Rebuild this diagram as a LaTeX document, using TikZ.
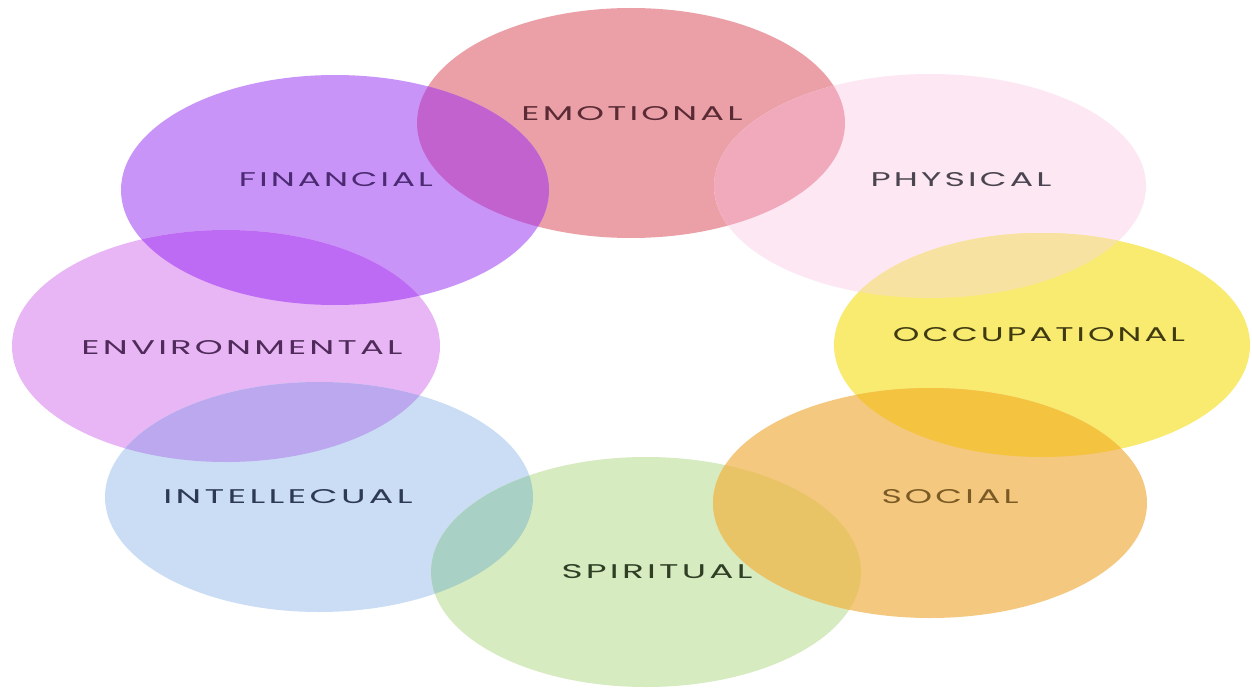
\documentclass[tikz,border=0pt]{standalone}
\usepackage{fontspec}
\usepackage{graphicx}
\newfontfamily\lblfont{Poppins}[LetterSpace=9]
\newcommand{\lbl}[2]{\resizebox{#1pt}{14pt}{\lblfont #2}}
% fills
\definecolor{cEmo}{RGB}{234,160,166}
\definecolor{cFin}{RGB}{201,148,247}
\definecolor{cPhy}{RGB}{252,231,243}
\definecolor{cOcc}{RGB}{248,235,112}
\definecolor{cEnv}{RGB}{232,182,245}
\definecolor{cInt}{RGB}{202,221,244}
\definecolor{cSpi}{RGB}{215,235,192}
\definecolor{cSoc}{RGB}{245,200,127}
% overlaps
\definecolor{oEmoFin}{RGB}{194,98,207}
\definecolor{oEmoPhy}{RGB}{240,170,187}
\definecolor{oPhyOcc}{RGB}{248,226,162}
\definecolor{oOccSoc}{RGB}{244,196,64}
\definecolor{oSocSpi}{RGB}{232,196,102}
\definecolor{oSpiInt}{RGB}{168,208,196}
\definecolor{oIntEnv}{RGB}{187,168,239}
\definecolor{oEnvFin}{RGB}{189,107,245}
% texts
\definecolor{tEmo}{RGB}{90,42,53}
\definecolor{tFin}{RGB}{75,42,115}
\definecolor{tPhy}{RGB}{74,69,80}
\definecolor{tOcc}{RGB}{63,58,18}
\definecolor{tEnv}{RGB}{79,42,90}
\definecolor{tInt}{RGB}{45,58,82}
\definecolor{tSpi}{RGB}{46,63,37}
\definecolor{tSoc}{RGB}{122,90,37}
\begin{document}
\begin{tikzpicture}[x=1pt,y=-1pt,
  lbl/.style={inner sep=0pt, anchor=center}]
\useasboundingbox (0,0) rectangle (1252,690);
\fill[white] (0,0) rectangle (1252,690);
% centres
\coordinate (emo) at (631,123);
\coordinate (fin) at (335,190);
\coordinate (phy) at (930,186);
\coordinate (occ) at (1042,345);
\coordinate (env) at (226,346);
\coordinate (int) at (319,497);
\coordinate (spi) at (646,572);
\coordinate (soc) at (930,503);
% base ellipses
\fill[cEmo] (emo) ellipse [x radius=214pt, y radius=115pt];
\fill[cFin] (fin) ellipse [x radius=214pt, y radius=115pt];
\fill[cPhy] (phy) ellipse [x radius=216pt, y radius=112pt];
\fill[cOcc] (occ) ellipse [x radius=208pt, y radius=112pt];
\fill[cEnv] (env) ellipse [x radius=214pt, y radius=116pt];
\fill[cInt] (int) ellipse [x radius=214pt, y radius=115pt];
\fill[cSpi] (spi) ellipse [x radius=215pt, y radius=115pt];
\fill[cSoc] (soc) ellipse [x radius=217pt, y radius=115pt];
% overlaps
\begin{scope}\clip (emo) ellipse [x radius=214pt, y radius=115pt];
  \fill[oEmoFin] (fin) ellipse [x radius=214pt, y radius=115pt];\end{scope}
\begin{scope}\clip (emo) ellipse [x radius=214pt, y radius=115pt];
  \fill[oEmoPhy] (phy) ellipse [x radius=216pt, y radius=112pt];\end{scope}
\begin{scope}\clip (phy) ellipse [x radius=216pt, y radius=112pt];
  \fill[oPhyOcc] (occ) ellipse [x radius=208pt, y radius=112pt];\end{scope}
\begin{scope}\clip (occ) ellipse [x radius=208pt, y radius=112pt];
  \fill[oOccSoc] (soc) ellipse [x radius=217pt, y radius=115pt];\end{scope}
\begin{scope}\clip (soc) ellipse [x radius=217pt, y radius=115pt];
  \fill[oSocSpi] (spi) ellipse [x radius=215pt, y radius=115pt];\end{scope}
\begin{scope}\clip (spi) ellipse [x radius=215pt, y radius=115pt];
  \fill[oSpiInt] (int) ellipse [x radius=214pt, y radius=115pt];\end{scope}
\begin{scope}\clip (int) ellipse [x radius=214pt, y radius=115pt];
  \fill[oIntEnv] (env) ellipse [x radius=214pt, y radius=116pt];\end{scope}
\begin{scope}\clip (env) ellipse [x radius=214pt, y radius=116pt];
  \fill[oEnvFin] (fin) ellipse [x radius=214pt, y radius=115pt];\end{scope}
% labels
\node[lbl, text=tEmo] (lEmo) at (632,114) {\lbl{221}{EMOTIONAL}};
\node[lbl, text=tFin] (lFin) at (336,180) {\lbl{194}{FINANCIAL}};
\node[lbl, text=tPhy] (lPhy) at (961,180) {\lbl{181}{PHYSICAL}};
\node[lbl, text=tOcc] (lOcc) at (1039,335) {\lbl{292}{OCCUPATIONAL}};
\node[lbl, text=tEnv] (lEnv) at (242,348) {\lbl{321}{ENVIRONMENTAL}};
\node[lbl, text=tInt] (lInt) at (288,497) {\lbl{249}{INTELLECUAL}};
\node[lbl, text=tSpi] (lSpi) at (657,572) {\lbl{191}{SPIRITUAL}};
\node[lbl, text=tSoc] (lSoc) at (950,497) {\lbl{137}{SOCIAL}};
\end{tikzpicture}
\end{document}
